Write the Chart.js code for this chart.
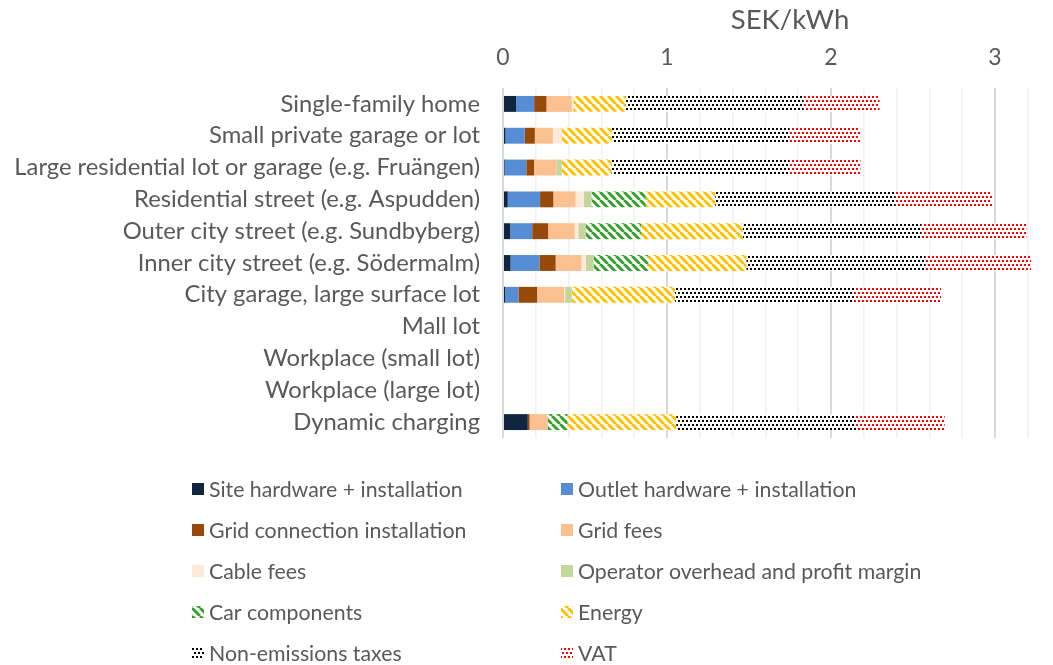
<!DOCTYPE html>
<html>
<head>
<meta charset="utf-8">
<script src="https://cdn.jsdelivr.net/npm/chart.js@4/dist/chart.umd.min.js"></script>
<style>
  html, body { margin: 0; padding: 0; background: #fff; }
  #wrap { width: 1053px; height: 665px; }
</style>
</head>
<body>
<div id="wrap"><canvas id="chart" width="1053" height="665"></canvas></div>
<script>
// categories and series (SEK/kWh)
var categories = [
    'Single-family home',
    'Small private garage or lot',
    'Large residential lot or garage (e.g. Fruängen)',
    'Residential street (e.g. Aspudden)',
    'Outer city street (e.g. Sundbyberg)',
    'Inner city street (e.g. Södermalm)',
    'City garage, large surface lot',
    'Mall lot',
    'Workplace (small lot)',
    'Workplace (large lot)',
    'Dynamic charging'
];
var siteHardware   = [0.080, 0.015, 0.010, 0.029, 0.044, 0.046, 0.013, null, null, null, 0.151];
var outletHardware = [0.110, 0.118, 0.132, 0.197, 0.134, 0.176, 0.081, null, null, null, 0];
var gridConnection = [0.075, 0.061, 0.047, 0.081, 0.097, 0.099, 0.114, null, null, null, 0.011];
var gridFees       = [0.154, 0.110, 0.136, 0.136, 0.162, 0.158, 0.165, null, null, null, 0.110];
var cableFees      = [0.010, 0.055, 0, 0.050, 0.022, 0.026, 0.006, null, null, null, 0];
var operatorMargin = [0, 0, 0.033, 0.046, 0.046, 0.048, 0.040, null, null, null, 0];
var carComponents  = [0, 0, 0, 0.331, 0.338, 0.334, 0, null, null, null, 0.121];
var energy         = [0.318, 0.305, 0.303, 0.424, 0.619, 0.597, 0.630, null, null, null, 0.663];
var nonEmissionTax = [1.086, 1.082, 1.083, 1.100, 1.088, 1.091, 1.091, null, null, null, 1.097];
var vat            = [0.463, 0.432, 0.436, 0.588, 0.641, 0.645, 0.531, null, null, null, 0.540];
var xTickLabels = [0, 1, 2, 3];

var textColor = '#595959';
var fontName = 'Lato, "Open Sans", sans-serif';

function stripes(color) {
    var c = document.createElement('canvas');
    c.width = 8; c.height = 8;
    var g = c.getContext('2d');
    g.fillStyle = '#fff';
    g.fillRect(0, 0, 8, 8);
    g.strokeStyle = color;
    g.lineWidth = 3;
    g.beginPath();
    [-8, 0, 8].forEach(function (o) {
        g.moveTo(o, 0);
        g.lineTo(o + 8, 8);
    });
    g.stroke();
    return g.createPattern(c, 'repeat');
}

function dots(color) {
    var c = document.createElement('canvas');
    c.width = 4; c.height = 8;
    var g = c.getContext('2d');
    g.fillStyle = '#fff';
    g.fillRect(0, 0, 4, 8);
    g.fillStyle = color;
    g.fillRect(0, 0, 2, 2);
    g.fillRect(2, 4, 2, 2);
    return g.createPattern(c, 'repeat');
}

var series = [
    ['Site hardware + installation', siteHardware, '#10253f'],
    ['Outlet hardware + installation', outletHardware, '#558ed5'],
    ['Grid connection installation', gridConnection, '#984807'],
    ['Grid fees', gridFees, '#fac090'],
    ['Cable fees', cableFees, '#fde9d9'],
    ['Operator overhead and profit margin', operatorMargin, '#c3d69b'],
    ['Car components', carComponents, stripes('#37a02f')],
    ['Energy', energy, stripes('#ffc000')],
    ['Non-emissions taxes', nonEmissionTax, dots('#000000')],
    ['VAT', vat, dots('#ff0000')]
];

var datasets = series.map(function (s) {
    return {
        label: s[0],
        data: s[1],
        backgroundColor: s[2],
        borderWidth: 0,
        barPercentage: 0.5,
        categoryPercentage: 1
    };
});

// axis title sits a bit right of the plot centre, like the original
var axisTitle = {
    id: 'axisTitle',
    afterDraw: function (chart) {
        var ctx = chart.ctx;
        ctx.save();
        ctx.font = '27.5px ' + fontName;
        ctx.fillStyle = textColor;
        ctx.textAlign = 'center';
        ctx.textBaseline = 'middle';
        ctx.fillText('SEK/kWh', 790, 20);
        ctx.restore();
    }
};

// two-column legend under the plot
var twoColLegend = {
    id: 'twoColLegend',
    afterDraw: function (chart) {
        var ctx = chart.ctx;
        var top = chart.chartArea.bottom + 51;
        var cols = [192, 561];
        ctx.save();
        ctx.font = '21.3px ' + fontName;
        ctx.textBaseline = 'middle';
        ctx.textAlign = 'left';
        chart.data.datasets.forEach(function (ds, i) {
            var x = cols[i % 2];
            var y = top + Math.floor(i / 2) * 41;
            ctx.fillStyle = ds.backgroundColor;
            ctx.fillRect(x, y - 6, 12, 12);
            ctx.fillStyle = textColor;
            ctx.fillText(ds.label, x + 17, y + 1);
        });
        ctx.restore();
    }
};

var ctx = document.getElementById('chart').getContext('2d');
var myChart = new Chart(ctx, {
    type: 'bar',
    data: { labels: categories, datasets: datasets },
    options: {
        indexAxis: 'y',
        responsive: false,
        animation: false,
        layout: { padding: { top: 0, left: 0, right: 17, bottom: 227 } },
        plugins: {
            legend: { display: false },
            tooltip: { enabled: false }
        },
        scales: {
            x: {
                position: 'top',
                stacked: true,
                min: 0,
                max: 3.25,
                afterFit: function (s) { s.height = 88; },
                afterBuildTicks: function (s) {
                    var t = [];
                    for (var i = 0; i <= 16; i++) t.push({ value: Math.round(i * 2) / 10 });
                    s.ticks = t;
                },
                border: { display: false },
                grid: {
                    drawTicks: false,
                    color: function (c) {
                        var v = c.tick ? c.tick.value : 0;
                        return Math.abs(v - Math.round(v)) < 1e-6 ? '#d9d9d9' : '#f0f0f0';
                    },
                    lineWidth: function (c) {
                        var v = c.tick ? c.tick.value : 0;
                        return Math.abs(v - Math.round(v)) < 1e-6 ? 2 : 1.5;
                    }
                },
                ticks: {
                    autoSkip: false,
                    maxRotation: 0,
                    padding: 17,
                    color: textColor,
                    font: { family: fontName, size: 23 },
                    callback: function (v) {
                        return xTickLabels.indexOf(v) >= 0 ? String(v) : '';
                    }
                },
                title: { display: false }
            },
            y: {
                stacked: true,
                afterFit: function (s) { s.width = 503; },
                border: { display: false },
                grid: { display: false },
                ticks: {
                    padding: 15,
                    color: textColor,
                    font: { family: fontName, size: 23.8 }
                }
            }
        }
    },
    plugins: [axisTitle, twoColLegend]
});
</script>
</body>
</html>
